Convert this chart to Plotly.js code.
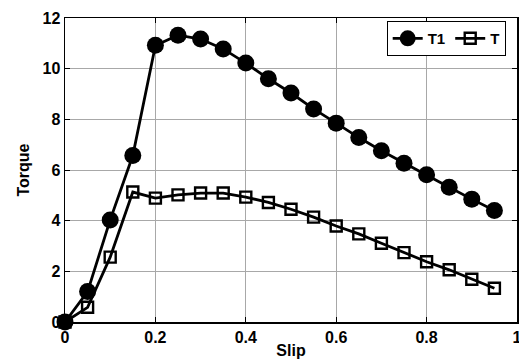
<!DOCTYPE html>
<html>
<head>
<meta charset="utf-8">
<script src="https://cdn.plot.ly/plotly-3.0.1.min.js"></script>
<style>html,body{margin:0;padding:0;background:#fff;}#chart{width:519px;height:363px;}</style>
</head>
<body>
<div id="chart"></div>
<script>
var slip = [0, 0.05, 0.1, 0.15, 0.2, 0.25, 0.3, 0.35, 0.4, 0.45, 0.5, 0.55, 0.6, 0.65, 0.7, 0.75, 0.8, 0.85, 0.9, 0.95];
var torqueT1 = [0, 1.2, 4.03, 6.57, 10.92, 11.32, 11.17, 10.78, 10.22, 9.6, 9.04, 8.41, 7.85, 7.28, 6.76, 6.27, 5.81, 5.32, 4.85, 4.4];
var torqueT = [0, 0.58, 2.56, 5.13, 4.89, 5.02, 5.09, 5.09, 4.93, 4.72, 4.45, 4.14, 3.79, 3.48, 3.11, 2.74, 2.38, 2.06, 1.69, 1.33];
var xTicks = [0, 0.2, 0.4, 0.6, 0.8, 1];
var xTickText = ['0', '0.2', '0.4', '0.6', '0.8', '1'];
var yTicks = [0, 2, 4, 6, 8, 10, 12];
var yTickText = ['0', '2', '4', '6', '8', '10', '12'];

var fam = 'Liberation Sans, Arial, sans-serif';
var traces = [
  {x: slip, y: torqueT1, name: 'T1', type: 'scatter', mode: 'lines+markers', cliponaxis: false,
   line: {color: '#000', width: 2.8},
   marker: {symbol: 'circle', size: 17, color: '#000'}},
  {x: slip, y: torqueT, name: 'T', type: 'scatter', mode: 'lines+markers', cliponaxis: false,
   line: {color: '#000', width: 2.8},
   marker: {symbol: 'square-open', size: 11, color: '#000', line: {width: 2.4, color: '#000'}}}
];
var axisCommon = {
  showline: true, linecolor: '#000', linewidth: 1.5, mirror: 'ticks',
  ticks: 'inside', ticklen: 5, tickcolor: '#000',
  showgrid: true, gridcolor: '#a8a8a8', gridwidth: 1,
  ticklabeloverflow: 'allow',
  zeroline: false, tickfont: {family: fam, size: 16, color: '#000', weight: 'bold'}
};
var layout = {
  width: 519, height: 363,
  margin: {l: 65, r: 2, t: 18, b: 41},
  paper_bgcolor: '#fff', plot_bgcolor: '#fff',
  font: {family: fam, size: 15, color: '#000'},
  showlegend: true,
  legend: {orientation: 'h', x: 0.975, xanchor: 'right', y: 0.99, yanchor: 'top',
           bgcolor: '#fff', bordercolor: '#000', borderwidth: 1,
           font: {family: fam, size: 15, color: '#000', weight: 'bold'},
           itemwidth: 30, tracegroupgap: 0},
  xaxis: Object.assign({}, axisCommon, {
    range: [0, 1], tickvals: xTicks, ticktext: xTickText,
    title: {text: 'Slip', standoff: 0, font: {family: fam, size: 16, color: '#000', weight: 'bold'}}
  }),
  yaxis: Object.assign({}, axisCommon, {
    range: [0, 12], tickvals: yTicks, ticktext: yTickText,
    title: {text: 'Torque', standoff: 9, font: {family: fam, size: 16, color: '#000', weight: 'bold'}}
  })
};
Plotly.newPlot('chart', traces, layout, {displayModeBar: false, staticPlot: true});
</script>
</body>
</html>
